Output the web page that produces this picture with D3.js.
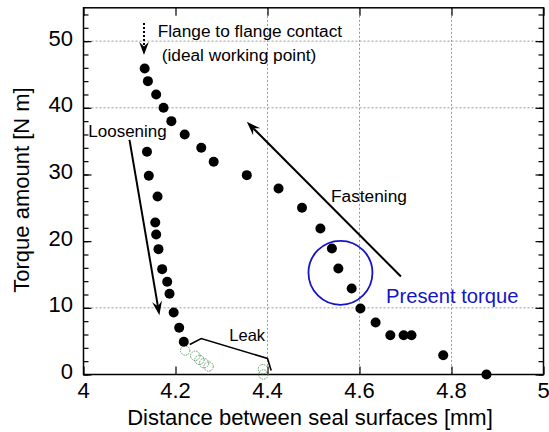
<!DOCTYPE html>
<html>
<head>
<meta charset="utf-8">
<script src="https://cdn.jsdelivr.net/npm/d3@7/dist/d3.min.js"></script>
<style>
  body { margin: 0; background: #fff; }
  svg { display: block; }
  text { font-family: "Liberation Sans", Arial, sans-serif; }
</style>
</head>
<body>
<svg id="chart" width="549" height="432"></svg>
<script>
// ---- Data ----
const fasteningX = [4.876, 4.782, 4.713, 4.696, 4.667, 4.635, 4.602, 4.583, 4.554, 4.540, 4.515, 4.475, 4.424, 4.355, 4.283, 4.256, 4.220, 4.191, 4.174, 4.158, 4.140, 4.133];
const fasteningY = [0.0, 2.9, 5.9, 5.9, 5.9, 7.8, 9.9, 12.9, 15.9, 18.9, 21.9, 25.0, 27.9, 29.9, 31.9, 34.0, 36.0, 38.0, 40.0, 42.0, 44.0, 45.9];
const looseningX = [4.138, 4.142, 4.161, 4.156, 4.158, 4.163, 4.171, 4.182, 4.187, 4.196, 4.208, 4.218];
const looseningY = [33.4, 29.8, 26.7, 22.8, 21.0, 18.8, 15.8, 13.9, 12.1, 9.3, 7.0, 4.9];
const leakX = [4.221, 4.243, 4.252, 4.262, 4.272, 4.390, 4.391];
const leakY = [3.6, 2.8, 2.2, 1.7, 1.2, 0.8, 0.0];
const xTicks = [4, 4.2, 4.4, 4.6, 4.8, 5];
const xTickLabels = ["4", "4.2", "4.4", "4.6", "4.8", "5"];
const yTicks = [0, 10, 20, 30, 40, 50];
const yTickLabels = ["0", "10", "20", "30", "40", "50"];
const yMinorTicks = d3.range(0, 56, 2);
const xGrid = [4.4, 4.6, 4.8];
const yGrid = [10, 40, 50];

// ---- Layout ----
const svg = d3.select("#chart");
const L = 83.5, R = 543.5, T = 7.8, B = 374.5;
const x = d3.scaleLinear().domain([4, 5]).range([L, R]);
const y = d3.scaleLinear().domain([0, 55]).range([B, T]);

// grid
const g = svg.append("g");
g.selectAll(".gx").data(xGrid).enter().append("line")
  .attr("x1", d => x(d)).attr("x2", d => x(d)).attr("y1", T).attr("y2", B)
  .attr("stroke", "#9a9a9a").attr("stroke-width", 1).attr("stroke-dasharray", "2,2");
g.selectAll(".gy").data(yGrid).enter().append("line")
  .attr("x1", L).attr("x2", R).attr("y1", d => y(d)).attr("y2", d => y(d))
  .attr("stroke", "#9a9a9a").attr("stroke-width", 1).attr("stroke-dasharray", "2,2");

// axes (ticks inward on all sides)
const ax = svg.append("g");
ax.append("g").attr("transform", `translate(0,${B})`)
  .call(d3.axisBottom(x).tickValues(xTicks).tickSize(-8).tickFormat(""));
ax.append("g").attr("transform", `translate(0,${T})`)
  .call(d3.axisTop(x).tickValues(xTicks).tickSize(-8).tickFormat(""));
ax.append("g").attr("transform", `translate(${L},0)`)
  .call(d3.axisLeft(y).tickValues(yMinorTicks).tickSize(-5).tickFormat(""));
ax.append("g").attr("transform", `translate(${L},0)`)
  .call(d3.axisLeft(y).tickValues(yTicks).tickSize(-8).tickFormat(""));
ax.append("g").attr("transform", `translate(${R},0)`)
  .call(d3.axisRight(y).tickValues(yMinorTicks).tickSize(-5).tickFormat(""));
ax.append("g").attr("transform", `translate(${R},0)`)
  .call(d3.axisRight(y).tickValues(yTicks).tickSize(-8).tickFormat(""));
ax.selectAll(".domain").remove();
ax.selectAll("line").attr("stroke", "#000").attr("stroke-width", 1.2);
svg.append("rect").attr("x", L).attr("y", T).attr("width", R - L).attr("height", B - T)
  .attr("fill", "none").attr("stroke", "#000").attr("stroke-width", 1.5);

// tick labels
svg.selectAll(".xl").data(xTicks).enter().append("text")
  .attr("x", d => x(d)).attr("y", 398).attr("text-anchor", "middle")
  .attr("font-size", 22).attr("fill", "#000").text((d, i) => xTickLabels[i]);
svg.selectAll(".yl").data(yTicks).enter().append("text")
  .attr("x", 73).attr("y", d => y(d) + 4.5).attr("text-anchor", "end")
  .attr("font-size", 22).attr("fill", "#000").text((d, i) => yTickLabels[i]);

// axis titles
svg.append("text").attr("x", 310).attr("y", 425).attr("text-anchor", "middle")
  .attr("font-size", 22).text("Distance between seal surfaces [mm]");
svg.append("text").attr("transform", "translate(29,190) rotate(-90)").attr("text-anchor", "middle")
  .attr("font-size", 22).text("Torque amount [N m]");

// helpers
function arrowHead(x1, y1, x2, y2, len, w) {
  const a = Math.atan2(y2 - y1, x2 - x1);
  const c = Math.cos(a), s = Math.sin(a);
  const p = (u, v) => [x2 + u * c - v * s, y2 + u * s + v * c];
  const pts = [p(0, 0), p(-len, w), p(-len * 0.65, 0), p(-len, -w)];
  return "M" + pts.map(q => q.join(",")).join("L") + "Z";
}
function arrow(x1, y1, x2, y2, opts) {
  const a = Math.atan2(y2 - y1, x2 - x1);
  const len = opts.len || 13;
  const ex = x2 - Math.cos(a) * len * 0.65, ey = y2 - Math.sin(a) * len * 0.65;
  svg.append("line").attr("x1", x1).attr("y1", y1).attr("x2", ex).attr("y2", ey)
    .attr("stroke", "#000").attr("stroke-width", opts.sw || 2)
    .attr("stroke-dasharray", opts.dash || null);
  svg.append("path").attr("d", arrowHead(x1, y1, x2, y2, len, opts.w || 5)).attr("fill", "#000");
}

// annotations
arrow(x(4.1315), 23, x(4.1315), 55, { dash: "2,2", sw: 2, len: 13, w: 4.8 });
arrow(x(4.1), y(35.2), x(4.165), y(8.9), { sw: 2, len: 14, w: 5 });
arrow(x(4.69), y(14.7), x(4.355), y(37.9), { sw: 2, len: 14, w: 5 });

// leak bracket
svg.append("path")
  .attr("d", d3.line()([[x(4.231), y(4.5)], [x(4.256), y(5.4)], [x(4.4), y(2.4)], [x(4.408), y(0.6)]]))
  .attr("fill", "none").attr("stroke", "#000").attr("stroke-width", 1.6);

// present torque circle
svg.append("circle").attr("cx", x(4.5586)).attr("cy", y(15.25)).attr("r", 32)
  .attr("fill", "none").attr("stroke", "#1414c8").attr("stroke-width", 1.8);

// data marks
svg.selectAll(".leak").data(leakX).enter().append("circle")
  .attr("cx", d => x(d)).attr("cy", (d, i) => y(leakY[i])).attr("r", 4.7)
  .attr("fill", "none").attr("stroke", "#5f9f6a").attr("stroke-width", 1)
  .attr("stroke-dasharray", "1.5,1");
svg.selectAll(".fast").data(fasteningX).enter().append("circle")
  .attr("cx", d => x(d)).attr("cy", (d, i) => y(fasteningY[i])).attr("r", 5).attr("fill", "#000");
svg.selectAll(".loose").data(looseningX).enter().append("circle")
  .attr("cx", d => x(d)).attr("cy", (d, i) => y(looseningY[i])).attr("r", 5).attr("fill", "#000");

// labels
const lab = (tx, ty, s, fs, col) => svg.append("text").attr("x", tx).attr("y", ty)
  .attr("font-size", fs).attr("fill", col || "#000").text(s);
lab(157.7, 36.7, "Flange to flange contact", 17.3);
lab(161.7, 60.5, "(ideal working point)", 17.3);
lab(88.3, 136.7, "Loosening", 17);
lab(331, 201.7, "Fastening", 17.3);
lab(229.3, 340.7, "Leak", 16.5);
lab(386, 303.3, "Present torque", 20.2, "#1414c8");
</script>
</body>
</html>
